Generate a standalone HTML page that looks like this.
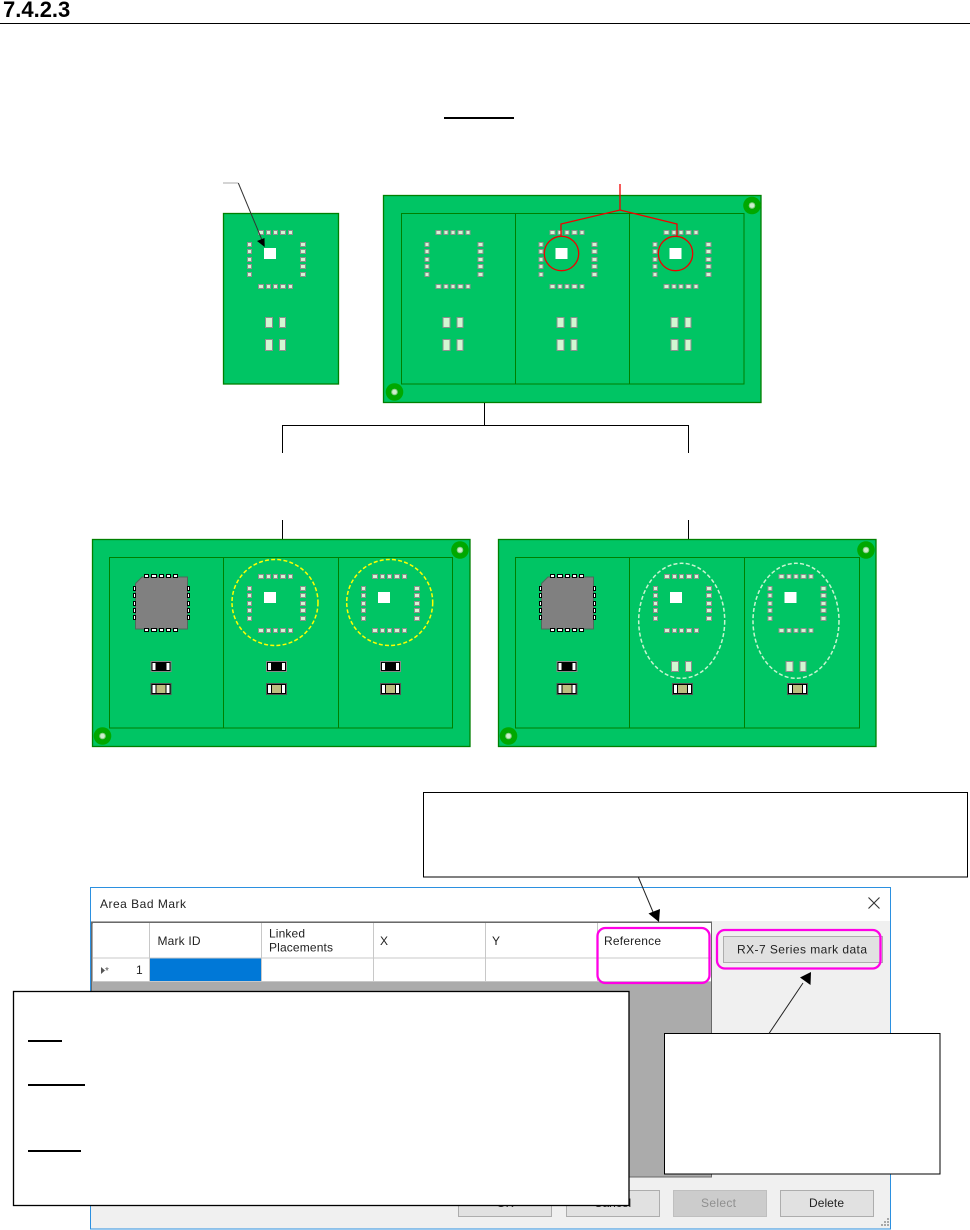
<!DOCTYPE html>
<html>
<head>
<meta charset="utf-8">
<title>7.4.2.3</title>
<style>
html,body{margin:0;padding:0;background:#fff;width:970px;height:1230px;overflow:hidden}
svg{display:block}
text{font-family:"Liberation Sans",sans-serif;font-size:12px;fill:#222}
.p{fill:#d2f7d2;stroke:#8f8f8f;stroke-width:1;shape-rendering:crispEdges}
.b{shape-rendering:crispEdges}
</style>
</head>
<body>
<svg width="970" height="1230" viewBox="0 0 970 1230" xmlns="http://www.w3.org/2000/svg">
<defs>
  <g id="pads">
    <g class="p" transform="translate(.5,.5)">
      <rect x="258" y="230" width="5" height="4"/><rect x="266" y="230" width="4" height="4"/><rect x="273" y="230" width="4" height="4"/><rect x="280" y="230" width="5" height="4"/><rect x="288" y="230" width="4" height="4"/>
      <rect x="258" y="284" width="5" height="4"/><rect x="266" y="284" width="4" height="4"/><rect x="273" y="284" width="4" height="4"/><rect x="280" y="284" width="5" height="4"/><rect x="288" y="284" width="4" height="4"/>
      <rect x="247" y="242" width="4" height="4"/><rect x="247" y="249" width="4" height="4"/><rect x="247" y="257" width="4" height="4"/><rect x="247" y="264" width="4" height="4"/><rect x="247" y="272" width="4" height="4"/>
      <rect x="300" y="242" width="5" height="4"/><rect x="300" y="249" width="5" height="4"/><rect x="300" y="257" width="5" height="4"/><rect x="300" y="264" width="5" height="4"/><rect x="300" y="272" width="5" height="4"/>
    </g>
  </g>
  <rect id="sq" class="b" x="264" y="248" width="12" height="11" fill="#fff"/>
  <g id="chipsTop" class="p" transform="translate(.5,.5)">
    <rect x="265" y="317" width="7" height="10"/><rect x="279" y="317" width="6" height="10"/>
  </g>
  <g id="chipsBot" class="p" transform="translate(.5,.5)">
    <rect x="265" y="339" width="7" height="11"/><rect x="279" y="339" width="6" height="11"/>
  </g>
  <g id="fid">
    <circle r="8.8" fill="#00a800"/>
    <circle r="2.8" fill="#cdeecd" stroke="#86cc86" stroke-width="1"/>
  </g>
  <rect id="outer" x="383.5" y="195.5" width="377.5" height="207" fill="#00c564" stroke="#008000" stroke-width="1.3"/>
  <g id="blk" class="b">
    <rect width="21" height="11" fill="#888"/>
    <rect x="1" y="1" width="19" height="9" fill="#000"/>
    <rect x="2" y="2" width="3" height="7" fill="#fff"/>
    <rect x="16" y="2" width="3" height="7" fill="#fff"/>
  </g>
  <g id="tan" class="b">
    <rect width="21" height="12" fill="#555"/>
    <rect x="1" y="1" width="19" height="10" fill="#000"/>
    <rect x="2" y="2" width="3" height="8" fill="#fff"/>
    <rect x="16" y="2" width="3" height="8" fill="#fff"/>
    <rect x="6" y="2" width="9" height="8" fill="#bdbd80"/>
  </g>
  <g id="ic">
    <polygon points="135.5,583.5 142,577 187.5,577 187.5,629 135.5,629" fill="#808080" stroke="#4d6a5a" stroke-width="1"/>
    <g class="b" fill="#fff" stroke="#000" stroke-width="1">
      <rect x="144.5" y="574.5" width="4" height="3"/><rect x="151.5" y="574.5" width="5" height="3"/><rect x="159.5" y="574.5" width="4" height="3"/><rect x="166.5" y="574.5" width="4" height="3"/><rect x="173.5" y="574.5" width="4" height="3"/>
      <rect x="144.5" y="628.5" width="4" height="3"/><rect x="151.5" y="628.5" width="5" height="3"/><rect x="159.5" y="628.5" width="4" height="3"/><rect x="166.5" y="628.5" width="4" height="3"/><rect x="173.5" y="628.5" width="4" height="3"/>
      <rect x="133.5" y="586.5" width="2" height="4"/><rect x="133.5" y="593.5" width="2" height="4"/><rect x="133.5" y="601.5" width="2" height="4"/><rect x="133.5" y="608.5" width="2" height="4"/><rect x="133.5" y="615.5" width="2" height="4"/>
      <rect x="187.5" y="586.5" width="2" height="4"/><rect x="187.5" y="593.5" width="2" height="4"/><rect x="187.5" y="601.5" width="2" height="4"/><rect x="187.5" y="608.5" width="2" height="4"/><rect x="187.5" y="615.5" width="2" height="4"/>
    </g>
  </g>
</defs>

<rect width="970" height="1230" fill="#fff"/>

<!-- heading -->
<text x="3" y="17" style="font-size:22px;font-weight:bold;fill:#000">7.4.2.3</text>
<rect x="0" y="23" width="970" height="1" fill="#000"/>
<rect x="444" y="117" width="70" height="2" fill="#000"/>

<!-- single board -->
<rect x="223.5" y="213.5" width="115" height="170.5" fill="#00c564" stroke="#008000" stroke-width="1.3"/>
<use href="#pads"/><use href="#sq"/><use href="#chipsTop"/><use href="#chipsBot"/>
<path d="M223 183H238" stroke="#aaa" stroke-width="1" fill="none"/>
<path d="M238.3 183L262 240" stroke="#333" stroke-width="1" fill="none"/>
<polygon points="264.700,247 257,241 264.500,238" fill="#000"/>

<!-- top panel -->
<use href="#outer"/>
<rect x="401.500" y="213.500" width="342.500" height="170.500" fill="none" stroke="#008000"/>
<path d="M515.500 213.500V384M629.500 213.500V384" fill="none" stroke="#008000"/>
<use href="#fid" x="752" y="205.500"/><use href="#fid" x="394.500" y="392"/>
<use href="#pads" x="177.500"/><use href="#chipsTop" x="177.500"/><use href="#chipsBot" x="177.500"/>
<use href="#pads" x="291.500"/><use href="#sq" x="291.500"/><use href="#chipsTop" x="291.500"/><use href="#chipsBot" x="291.500"/>
<use href="#pads" x="405.500"/><use href="#sq" x="405.500"/><use href="#chipsTop" x="405.500"/><use href="#chipsBot" x="405.500"/>
<g fill="none" stroke="#f00000" stroke-width="1.300">
  <circle cx="561.500" cy="253.500" r="17.200"/>
  <circle cx="675.500" cy="253.500" r="17.200"/>
  <path d="M620 184V210M561 236V224L620 210L677 224V236"/>
</g>

<!-- tree connector -->
<path d="M484.500 403V425.500M282 425.500H689M282.500 425V453M688.500 425V453M282.500 520V539M688.500 520V539" fill="none" stroke="#000" stroke-width="1"/>

<!-- lower left panel -->
<use href="#outer" x="-291" y="344"/>
<rect x="109.500" y="557.500" width="343" height="170.500" fill="none" stroke="#008000"/>
<path d="M223.500 557.500V728M338.500 557.500V728" fill="none" stroke="#008000"/>
<use href="#fid" x="460" y="550"/><use href="#fid" x="102.500" y="736"/>
<use href="#ic"/>
<use href="#blk" x="150.500" y="661"/><use href="#tan" x="150.500" y="683"/>
<use href="#pads" y="344"/><use href="#sq" y="344"/>
<use href="#blk" x="266" y="661"/><use href="#tan" x="266" y="683"/>
<use href="#pads" x="114" y="344"/><use href="#sq" x="114" y="344"/>
<use href="#blk" x="380" y="661"/><use href="#tan" x="380" y="683"/>
<g fill="none" stroke="#ffff00" stroke-width="1.500" stroke-dasharray="4 2.200">
  <circle cx="275" cy="602.500" r="43"/>
  <circle cx="389.700" cy="602.500" r="43"/>
</g>

<!-- lower right panel -->
<use href="#outer" x="115" y="344"/>
<rect x="515.500" y="557.500" width="344" height="170.500" fill="none" stroke="#008000"/>
<path d="M629.500 557.500V728M744.500 557.500V728" fill="none" stroke="#008000"/>
<use href="#fid" x="866" y="550"/><use href="#fid" x="508.500" y="736"/>
<use href="#ic" x="406"/>
<use href="#blk" x="556.500" y="661"/><use href="#tan" x="556.500" y="683"/>
<use href="#pads" x="406" y="344"/><use href="#sq" x="406" y="344"/>
<use href="#chipsTop" x="406" y="344"/><use href="#tan" x="672" y="683"/>
<use href="#pads" x="520.500" y="344"/><use href="#sq" x="520.500" y="344"/>
<use href="#chipsTop" x="520.500" y="344"/><use href="#tan" x="787" y="683"/>
<g fill="none" stroke="#c8f5d0" stroke-width="1.500" stroke-dasharray="4 2.200">
  <ellipse cx="681.700" cy="620.800" rx="43" ry="57.500"/>
  <ellipse cx="796" cy="620.800" rx="43" ry="57.500"/>
</g>

<!-- dialog -->
<rect x="90.500" y="887.500" width="800" height="341.500" fill="#f0f0f0" stroke="#2b90e0" stroke-width="1"/>
<rect x="91" y="888" width="799" height="33" fill="#fff"/>
<text x="100" y="908" textLength="86" lengthAdjust="spacing">Area Bad Mark</text>
<path d="M868.500 897.500L879.500 908.500M879.500 897.500L868.500 908.500" stroke="#333" stroke-width="1.100" fill="none"/>

<rect x="92" y="922" width="620" height="255" fill="#ababab"/>
<path d="M91.500 1177V922H711.500V1177H92" fill="none" stroke="#696969" stroke-width="1"/>
<path d="M92 922.500H711" stroke="#696969" stroke-width="2"/>
<rect x="93" y="923" width="618" height="58" fill="#fff"/>
<rect x="150" y="958" width="111" height="23" fill="#0078d7"/>
<path d="M149.500 923V981M261.500 923V981M373.500 923V981M485.500 923V981M597.500 923V981M93 958H711M93 981.500H711" stroke="#c8c8c8" stroke-width="1" fill="none"/>
<text x="157.500" y="945" textLength="43" lengthAdjust="spacing">Mark ID</text>
<text x="269" y="937.500" textLength="36" lengthAdjust="spacing">Linked</text>
<text x="269" y="951.500" textLength="64" lengthAdjust="spacing">Placements</text>
<text x="380" y="945">X</text>
<text x="492" y="945">Y</text>
<text x="604" y="945" textLength="57" lengthAdjust="spacing">Reference</text>
<polygon points="101,967 101,974 105,970.500" fill="#555"/>
<text x="105" y="974" style="font-size:10px;fill:#555">*</text>
<text x="136" y="974">1</text>

<rect x="723.500" y="936.500" width="159" height="26" fill="#e1e1e1" stroke="#adadad"/>
<text x="737" y="953.500" textLength="130" lengthAdjust="spacing">RX-7 Series mark data</text>

<rect x="458.500" y="1190.500" width="93" height="26" fill="#e1e1e1" stroke="#adadad"/>
<rect x="566.500" y="1190.500" width="93" height="26" fill="#e1e1e1" stroke="#adadad"/>
<rect x="673.500" y="1190.500" width="93" height="26" fill="#cccccc" stroke="#bfbfbf"/>
<rect x="780.500" y="1190.500" width="93" height="26" fill="#e1e1e1" stroke="#adadad"/>
<text x="505" y="1207" text-anchor="middle">OK</text>
<text x="612.500" y="1207" text-anchor="middle">Cancel</text>
<text x="701" y="1207" textLength="35" lengthAdjust="spacing" style="fill:#8f8f8f">Select</text>
<text x="809" y="1207" textLength="35" lengthAdjust="spacing">Delete</text>
<g fill="#a8a8a8" class="b">
  <rect x="887" y="1218" width="2" height="2"/>
  <rect x="884" y="1221" width="2" height="2"/><rect x="887" y="1221" width="2" height="2"/>
  <rect x="881" y="1224" width="2" height="2"/><rect x="884" y="1224" width="2" height="2"/><rect x="887" y="1224" width="2" height="2"/>
</g>

<!-- magenta highlights -->
<g fill="none" stroke="#ff00e6" stroke-width="2.300">
  <rect x="597.500" y="928" width="112" height="55" rx="8"/>
  <rect x="717" y="930" width="163.500" height="38.500" rx="8"/>
</g>

<!-- callouts -->
<rect x="423.500" y="792.500" width="544" height="84.500" fill="#fff" stroke="#000" stroke-width="1"/>
<path d="M638.500 877.500L653 912" stroke="#222" stroke-width="1" fill="none"/>
<polygon points="659,922 648.500,913.500 660,909" fill="#000"/>

<rect x="13.500" y="991.500" width="615.500" height="214" fill="#fff" stroke="#000" stroke-width="1.300"/>
<rect x="28" y="1040" width="34" height="2" fill="#000"/>
<rect x="28" y="1084" width="57" height="2" fill="#000"/>
<rect x="28" y="1150" width="53" height="2" fill="#000"/>

<rect x="664.500" y="1033.500" width="275.500" height="140.500" fill="#fff" stroke="#000" stroke-width="1"/>
<path d="M769 1033.500L803 983" stroke="#222" stroke-width="1" fill="none"/>
<polygon points="811,972 810.500,985 800,977.500" fill="#000"/>
</svg>
</body>
</html>
